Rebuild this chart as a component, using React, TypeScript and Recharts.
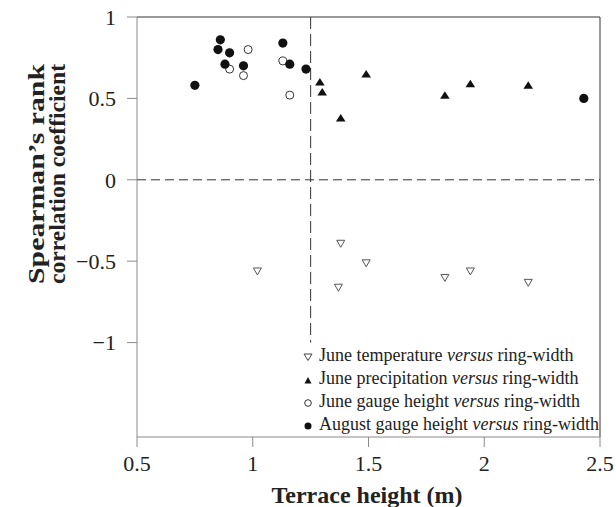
import { ScatterChart, Scatter, XAxis, YAxis, ReferenceLine, Legend } from 'recharts'

// terrace heights (m) and Spearman coefficients
const tempX = [1.02, 1.38, 1.37, 1.49, 1.83, 1.94, 2.19]
const tempY = [-0.56, -0.39, -0.66, -0.51, -0.6, -0.56, -0.63]

const precipX = [1.29, 1.3, 1.38, 1.49, 1.83, 1.94, 2.19]
const precipY = [0.6, 0.54, 0.38, 0.65, 0.52, 0.59, 0.58]

const juneGaugeX = [0.98, 0.9, 0.96, 1.13, 1.16]
const juneGaugeY = [0.8, 0.68, 0.64, 0.73, 0.52]

const augGaugeX = [0.75, 0.86, 0.85, 0.9, 0.88, 0.96, 1.13, 1.16, 1.23, 2.43]
const augGaugeY = [0.58, 0.86, 0.8, 0.78, 0.71, 0.7, 0.84, 0.71, 0.68, 0.5]

const xTicks = [0.5, 1, 1.5, 2, 2.5]
const yTicks = [-1, -0.5, 0, 0.5, 1]

const legendLabels = ['June temperature', 'June precipitation', 'June gauge height', 'August gauge height']

const zip = (xs: number[], ys: number[]) => xs.map((x, i) => ({ x, y: ys[i] }))

const FONT = '"Liberation Serif", "Times New Roman", serif'

const DownTri = ({ cx, cy }: any) => (
  <path d={`M${cx - 4},${cy - 3} L${cx + 4},${cy - 3} L${cx},${cy + 4} Z`} fill="#fff" stroke="#555" strokeWidth={1} />
)
const UpTri = ({ cx, cy }: any) => (
  <path d={`M${cx - 4.8},${cy + 3.5} L${cx + 4.8},${cy + 3.5} L${cx},${cy - 4} Z`} fill="#111" />
)
const OpenDot = ({ cx, cy }: any) => <circle cx={cx} cy={cy} r={4} fill="#fff" stroke="#333" strokeWidth={1} />
const FullDot = ({ cx, cy }: any) => <circle cx={cx} cy={cy} r={4.6} fill="#111" />

function LegendIcon({ i }: { i: number }) {
  return (
    <svg width={10} height={10} style={{ marginRight: 6, verticalAlign: 'middle' }}>
      {i === 0 && <path d="M1,2 L9,2 L5,8.5 Z" fill="#fff" stroke="#444" strokeWidth={1} />}
      {i === 1 && <path d="M1.5,8.5 L8.5,8.5 L5,2 Z" fill="#111" />}
      {i === 2 && <circle cx={5} cy={5} r={3.3} fill="#fff" stroke="#333" strokeWidth={1} />}
      {i === 3 && <circle cx={5} cy={5} r={3.5} fill="#111" />}
    </svg>
  )
}

function LegendBox() {
  return (
    <div style={{ fontFamily: FONT, fontSize: 18, color: '#222', lineHeight: '23px' }}>
      {legendLabels.map((l, i) => (
        <div key={l} style={{ whiteSpace: 'nowrap' }}>
          <LegendIcon i={i} />
          {l} <i>versus</i> ring-width
        </div>
      ))}
    </div>
  )
}

const fmt = (v: number) => (v < 0 ? '\u2212' + Math.abs(v) : String(v))

export default function App() {
  return (
    <div style={{ position: 'absolute', left: 0, top: 0 }}>
      <ScatterChart width={616} height={507} margin={{ top: 17, right: 16, bottom: 0, left: 0 }}>
        <XAxis
          type="number"
          dataKey="x"
          domain={[0.5, 2.5]}
          ticks={xTicks}
          height={70}
          tickSize={10}
          tickMargin={8}
          stroke="#8a8a8a"
          tick={{ fontSize: 22, fill: '#222', fontFamily: FONT }}
          label={{
            content: () => (
              <text x={367} y={503} textAnchor="middle" fontFamily={FONT} fontWeight="bold" fontSize={24} fill="#222">
                Terrace height (m)
              </text>
            ),
          }}
        />
        <YAxis
          type="number"
          dataKey="y"
          domain={[-1.58, 1]}
          ticks={yTicks}
          width={137}
          tickSize={10}
          tickMargin={11}
          tickFormatter={fmt}
          stroke="#8a8a8a"
          tick={{ fontSize: 22, fill: '#222', fontFamily: FONT }}
          label={{
            content: () => (
              <text transform="translate(0,174) rotate(-90)" textAnchor="middle" fontFamily={FONT} fontWeight="bold" fontSize={23} fill="#222">
                <tspan x={0} y={44} textLength={220} lengthAdjust="spacingAndGlyphs">Spearman’s rank</tspan>
                <tspan x={0} y={65} textLength={220} lengthAdjust="spacingAndGlyphs">correlation coefficient</tspan>
              </text>
            ),
          }}
        />
        <ReferenceLine y={1} stroke="#333" strokeWidth={1} />
        <ReferenceLine x={2.5} stroke="#333" strokeWidth={1} />
        <ReferenceLine y={0} stroke="#333" strokeDasharray="9 5" />
        <ReferenceLine segment={[{ x: 1.25, y: 1 }, { x: 1.25, y: -1 }]} stroke="#333" strokeDasharray="12 5" />
        <Scatter data={zip(tempX, tempY)} shape={DownTri} isAnimationActive={false} />
        <Scatter data={zip(precipX, precipY)} shape={UpTri} isAnimationActive={false} />
        <Scatter data={zip(juneGaugeX, juneGaugeY)} shape={OpenDot} isAnimationActive={false} />
        <Scatter data={zip(augGaugeX, augGaugeY)} shape={FullDot} isAnimationActive={false} />
        <Legend
          layout="vertical"
          align="center"
          verticalAlign="middle"
          content={() => <LegendBox />}
          wrapperStyle={{ left: 303, top: 344, width: 300 }}
        />
      </ScatterChart>
    </div>
  )
}
